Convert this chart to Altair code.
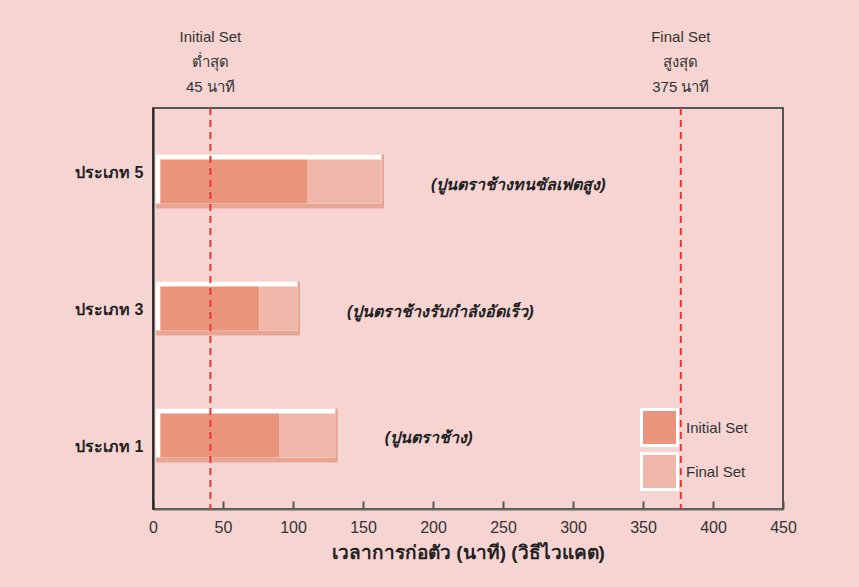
import altair as alt
import pandas as pd

# ---- data ----
types = ["ประเภท 5", "ประเภท 3", "ประเภท 1"]
descs = ["(ปูนตราช้างทนซัลเฟตสูง)", "(ปูนตราช้างรับกำลังอัดเร็ว)", "(ปูนตราช้าง)"]
bar_start = [2, 2, 2]
initial_end = [110, 76, 90]
final_end = [165, 105, 132]

series = ["Initial Set", "Final Set"]
ref_values = [41, 377]
ref_labels = ["Initial Set\nต่ำสุด\n45 นาที", "Final Set\nสูงสุด\n375 นาที"]
x_ticks = [0, 50, 100, 150, 200, 250, 300, 350, 400, 450]

FONT = "Liberation Sans, Noto Sans, sans-serif"
BG = "#F6D4D2"
C_INIT = "#EA947B"
C_FINAL = "#EFB7A9"
C_SHADOW = "#E9A594"

boxes = pd.DataFrame({"type": types, "desc": descs, "start": bar_start,
                      "initial": initial_end, "final": final_end})
rows = []
for t, s, i, f in zip(types, bar_start, initial_end, final_end):
    rows.append({"type": t, "series": series[0], "x0": s, "x1": i})
    rows.append({"type": t, "series": series[1], "x0": i, "x1": f})
segs = pd.DataFrame(rows)
refs = pd.DataFrame({"v": ref_values, "label": ref_labels})

W, H = 630, 401

xscale = alt.Scale(domain=[0, 450], nice=False, zero=False)
yscale = alt.Scale(domain=types, paddingInner=0, paddingOuter=0.08)

label_off = {"condition": [{"test": f"datum.value == '{types[0]}'", "value": -9},
                           {"test": f"datum.value == '{types[2]}'", "value": 12}],
             "value": 1}

y_enc = alt.Y("type:N", scale=yscale, sort=types,
              axis=alt.Axis(title=None, ticks=False, labelPadding=10,
                            labelFont=FONT, labelFontSize=16, labelFontWeight="bold",
                            labelColor="#222", domainColor="#222", domainWidth=2,
                            labelOffset=label_off))
x_axis = alt.Axis(title="เวลาการก่อตัว (นาที) (วิธีไวแคต)", values=x_ticks, ticks=False,
                  grid=False, labelPadding=10, labelFont=FONT, labelFontSize=16,
                  labelFlush=False,
                  labelColor="#333", domainColor="#666", domainWidth=2,
                  titleFont=FONT, titleFontSize=19, titleFontWeight="bold",
                  titleColor="#222", titlePadding=8)
# second axis: ticks pointing into the plot, drawn from the top orient moved to the bottom
tick_axis = alt.Axis(orient="top", offset=-H, labels=False, domain=False, grid=False,
                     title=None, values=x_ticks, tickSize=8, tickWidth=2,
                     tickColor="#555")

base = alt.Chart(boxes)
yb = alt.Y("type:N", sort=types)

shadow = base.mark_bar(height=54, color=C_SHADOW).encode(
    x=alt.X("start:Q", scale=xscale, axis=x_axis), x2="final:Q", y=y_enc)
white = base.mark_bar(height=49, color="white", x2Offset=-2.5, yOffset=-2.5).encode(
    x=alt.X("start:Q", axis=tick_axis), x2="final:Q", y=yb)

color = alt.Color("series:N", scale=alt.Scale(domain=series, range=[C_INIT, C_FINAL]),
                  legend=alt.Legend(title=None, orient="none", legendX=487, legendY=300,
                                    symbolType="square", symbolSize=1296,
                                    symbolStrokeColor="white", symbolStrokeWidth=3,
                                    symbolOpacity=1, labelFont=FONT, labelFontSize=15,
                                    labelColor="#333", rowPadding=-12, labelOffset=7))
seg = alt.Chart(segs)
init_fill = seg.transform_filter(alt.datum.series == series[0]).mark_bar(
    height=44, xOffset=4.5).encode(x=alt.X("x0:Q", axis=None), x2="x1:Q", y=yb,
                                    color=color)
final_fill = seg.transform_filter(alt.datum.series == series[1]).mark_bar(
    height=44, x2Offset=-2.5).encode(x=alt.X("x0:Q", axis=None), x2="x1:Q", y=yb,
                                      color=color)

desc_text = base.mark_text(align="left", dx=47, dy=3, font=FONT, fontSize=16,
                           fontStyle="italic", fontWeight="bold", color="#222").encode(
    x=alt.X("final:Q", axis=None), y=yb, text="desc:N")

ref_rules = alt.Chart(refs).mark_rule(color="#EE3333", strokeWidth=2,
                                      strokeDash=[7, 5]).encode(
    x=alt.X("v:Q", axis=None), y=alt.value(0), y2=alt.value(H))
ref_text = alt.Chart(refs).mark_text(baseline="top", font=FONT, fontSize=15,
                                     color="#333", lineBreak="\n", lineHeight=25).encode(
    x=alt.X("v:Q", axis=None), y=alt.value(-78), text="label:N")

chart = alt.layer(shadow, white, init_fill, final_fill, ref_rules, desc_text,
                  ref_text).resolve_axis(x="independent").properties(
    width=W, height=H, background=BG,
    padding={"left": 153, "top": 108, "right": 76, "bottom": 78},
    autosize=alt.AutoSizeParams(type="none"),
).configure_view(stroke="#555", strokeWidth=2)

chart.save("out.html", embed_options={"renderer": "svg", "actions": False})
